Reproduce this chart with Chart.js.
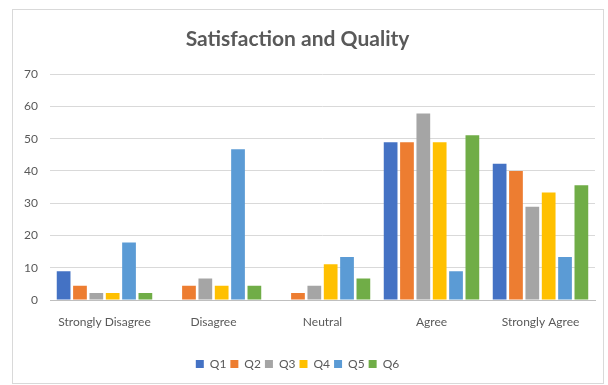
<!DOCTYPE html>
<html>
<head>
<meta charset="utf-8">
<script src="https://cdn.jsdelivr.net/npm/chart.js@4/dist/chart.umd.min.js"></script>
<style>
  html, body { margin: 0; padding: 0; background: #ffffff; }
  #wrap { position: absolute; left: 0; top: 0; width: 608px; height: 385px; }
</style>
</head>
<body>
<div id="wrap"><canvas id="c" width="608" height="385"></canvas></div>
<script>
const categories = ["Strongly Disagree", "Disagree", "Neutral", "Agree", "Strongly Agree"];
const seriesNames = ["Q1", "Q2", "Q3", "Q4", "Q5", "Q6"];
const q1 = [8.9, 0, 0, 48.9, 42.2];
const q2 = [4.4, 4.4, 2.2, 48.9, 40.0];
const q3 = [2.2, 6.7, 4.4, 57.8, 28.9];
const q4 = [2.2, 4.4, 11.1, 48.9, 33.3];
const q5 = [17.8, 46.7, 13.3, 8.9, 13.3];
const q6 = [2.2, 4.4, 6.7, 51.1, 35.6];
const seriesValues = [q1, q2, q3, q4, q5, q6];
const seriesColors = ["#4472C4", "#ED7D31", "#A5A5A5", "#FFC000", "#5B9BD5", "#70AD47"];
const yTicks = [0, 10, 20, 30, 40, 50, 60, 70];

const framePlugin = {
  id: 'frame',
  beforeDraw(chart) {
    const ctx = chart.ctx;
    ctx.save();
    ctx.fillStyle = '#ffffff';
    ctx.fillRect(0, 0, chart.width, chart.height);
    ctx.strokeStyle = '#d9d9d9';
    ctx.lineWidth = 1;
    ctx.strokeRect(12.5, 9.5, 591, 374);
    ctx.restore();
  }
};

const FONT = "Lato, 'Open Sans', sans-serif";

new Chart(document.getElementById('c'), {
  type: 'bar',
  data: {
    labels: categories,
    datasets: seriesNames.map((n, i) => ({
      label: n,
      data: seriesValues[i],
      backgroundColor: seriesColors[i],
      borderWidth: 0,
      categoryPercentage: 0.9,
      barPercentage: 0.84
    }))
  },
  options: {
    responsive: false,
    animation: false,
    devicePixelRatio: 1,
    layout: { padding: { left: 0, right: 13, top: 0, bottom: 5 } },
    plugins: {
      title: {
        display: true,
        text: 'Satisfaction and Quality',
        color: '#595959',
        font: { family: FONT, size: 21, weight: 'bold' },
        padding: { top: 27, bottom: 22 }
      },
      legend: {
        position: 'bottom',
        labels: {
          color: '#595959',
          font: { family: FONT, size: 12 },
          boxWidth: 8,
          boxHeight: 8,
          padding: 4
        }
      },
      tooltip: { enabled: false }
    },
    scales: {
      x: {
        grid: { display: false, drawTicks: false },
        border: { display: true, color: '#bfbfbf' },
        ticks: { color: '#595959', font: { family: FONT, size: 12 }, padding: 15, maxRotation: 0 },
        afterFit(scale) { scale.height = 54; }
      },
      y: {
        min: 0,
        max: 70,
        afterBuildTicks(scale) { scale.ticks = yTicks.map(v => ({ value: v })); },
        grid: { color: '#d9d9d9', drawTicks: false },
        border: { display: false },
        ticks: { color: '#595959', font: { family: FONT, size: 12 }, padding: 12 },
        afterFit(scale) { scale.width = 50; }
      }
    }
  },
  plugins: [framePlugin]
});
</script>
</body>
</html>
